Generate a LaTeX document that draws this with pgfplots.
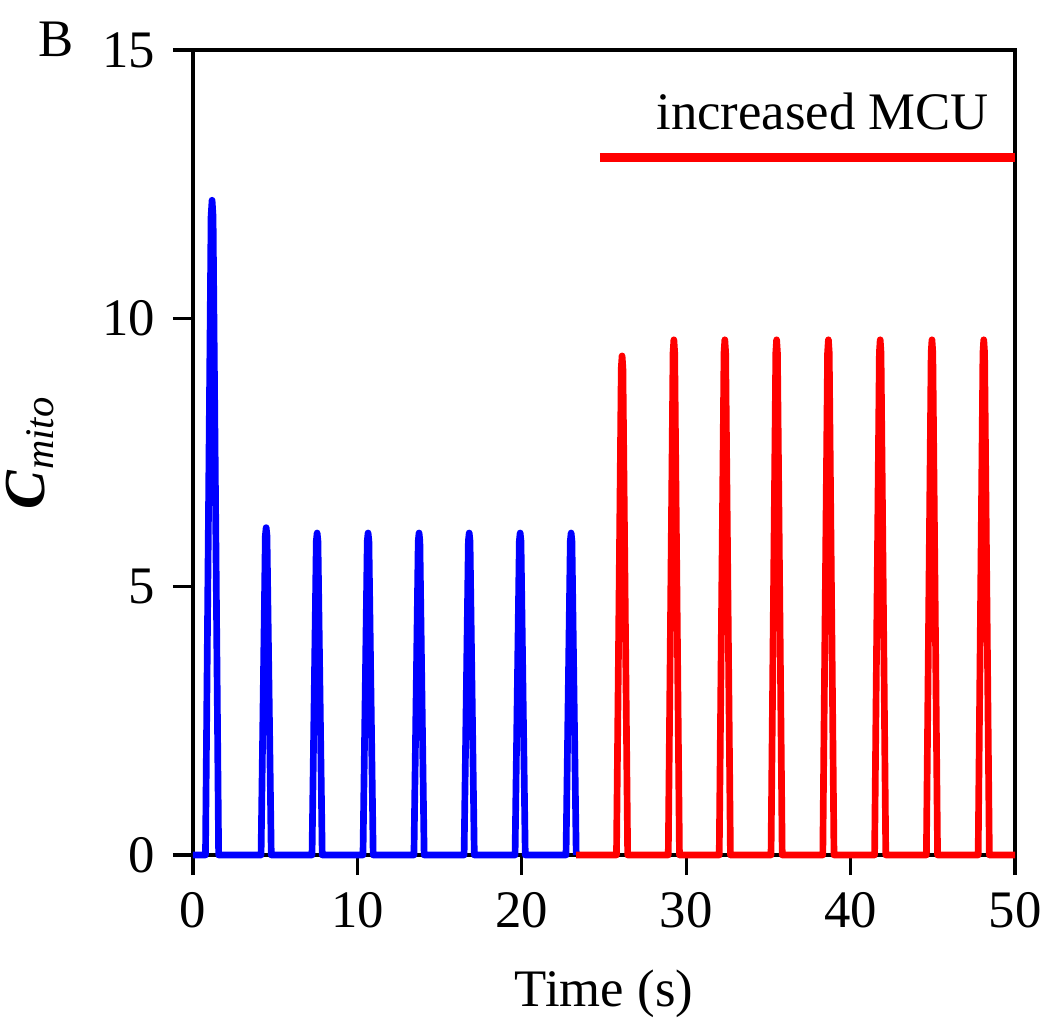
\documentclass[border=0pt]{standalone}
\usepackage{fontspec}
\setmainfont{Liberation Serif}
\usepackage{pgfplots}
\pgfplotsset{compat=1.18}
\definecolor{cBlue}{RGB}{0,0,255}
\definecolor{cRed}{RGB}{255,0,0}

\begin{document}
\fontsize{14.5}{17}\selectfont
\begin{tikzpicture}
\path[use as bounding box] (0,0) rectangle (10.51,10.22);
\begin{axis}[
  at={(1.93cm,1.67cm)}, anchor=south west,
  scale only axis,
  width=8.22cm, height=8.05cm,
  xmin=0, xmax=50, ymin=0, ymax=15,
  xtick={0,10,...,50}, ytick={0,5,10,15},
  tick align=outside, tick pos=left,
  major tick length=2mm,
  axis line style={line width=0.9pt},
  every tick/.style={black, line width=0.9pt},
  /pgf/number format/assume math mode=true,
  tick label style={font=\fontsize{15}{17}\selectfont},
  xlabel={Time (s)},
  ylabel={\textbf{\textit{C}}\textsubscript{\textit{mito}}},
  xlabel style={font=\fontsize{15}{17}\selectfont, yshift=-2pt},
  ylabel style={font=\fontsize{16.5}{19}\selectfont, yshift=4pt},
  clip=false,
]
% blue trace (baseline conditions)
\addplot[cBlue, line width=1.9pt, line join=round] coordinates {
  (0,0) (0.76,0) (1.10,11.9) (1.16,12.2) (1.22,11.9) (1.56,0)
  (4.14,0) (4.40,5.95) (4.45,6.1) (4.50,5.95) (4.76,0)
  (7.24,0) (7.50,5.85) (7.55,6.0) (7.60,5.85) (7.86,0)
  (10.34,0) (10.60,5.85) (10.65,6.0) (10.70,5.85) (10.96,0)
  (13.44,0) (13.70,5.85) (13.75,6.0) (13.80,5.85) (14.06,0)
  (16.49,0) (16.75,5.85) (16.80,6.0) (16.85,5.85) (17.11,0)
  (19.59,0) (19.85,5.85) (19.90,6.0) (19.95,5.85) (20.21,0)
  (22.69,0) (22.95,5.85) (23.00,6.0) (23.05,5.85) (23.31,0)
};
% red trace (increased MCU)
\addplot[cRed, line width=1.9pt, line join=round] coordinates {
  (23.31,0) (25.76,0) (26.05,9.07) (26.10,9.3) (26.15,9.07) (26.44,0)
  (28.91,0) (29.20,9.36) (29.25,9.6) (29.30,9.36) (29.59,0)
  (32.01,0) (32.30,9.36) (32.35,9.6) (32.40,9.36) (32.69,0)
  (35.16,0) (35.45,9.36) (35.50,9.6) (35.55,9.36) (35.84,0)
  (38.31,0) (38.60,9.36) (38.65,9.6) (38.70,9.36) (38.99,0)
  (41.46,0) (41.75,9.36) (41.80,9.6) (41.85,9.36) (42.14,0)
  (44.61,0) (44.90,9.36) (44.95,9.6) (45.00,9.36) (45.29,0)
  (47.76,0) (48.05,9.36) (48.10,9.6) (48.15,9.36) (48.44,0)
  (50,0)
};
% bar marking the increased-MCU period
\addplot[cRed, line width=2.4pt] coordinates {(24.75,13) (50,13)};
\node[font=\fontsize{15}{17}\selectfont] at (axis cs:38.3,13.85) {increased MCU};
\node[font=\fontsize{15}{17}\selectfont] at (axis cs:-8.3,15.2) {B};
\end{axis}
\end{tikzpicture}
\end{document}
